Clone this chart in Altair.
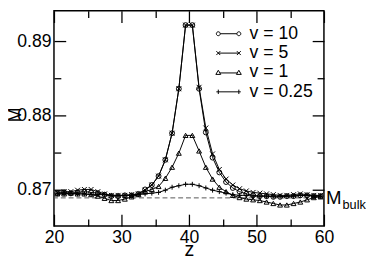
import altair as alt
import pandas as pd

# ---------------- data ----------------
Z = [20.5, 21.5, 22.5, 23.5, 24.5, 25.5, 26.5, 27.5, 28.5, 29.5,
     30.5, 31.5, 32.5, 33.5, 34.5, 35.5, 36.5, 37.5, 38.5, 39.5,
     40.5, 41.5, 42.5, 43.5, 44.5, 45.5, 46.5, 47.5, 48.5, 49.5,
     50.5, 51.5, 52.5, 53.5, 54.5, 55.5, 56.5, 57.5, 58.5, 59.5]

SERIES = ["v = 10", "v = 5", "v = 1", "v = 0.25"]

M_V10 = [0.8695, 0.8696, 0.8695, 0.8696, 0.8697, 0.8696, 0.8695, 0.8693, 0.8691, 0.8691,
         0.8692, 0.8692, 0.8694, 0.8700, 0.8706, 0.8718, 0.8740, 0.8776, 0.8836, 0.8922,
         0.8922, 0.8836, 0.8777, 0.8743, 0.8723, 0.8710, 0.8702, 0.8697, 0.8694, 0.8692,
         0.8691, 0.8691, 0.8690, 0.8690, 0.8691, 0.8691, 0.8692, 0.8692, 0.8691, 0.8691]

M_V5 = [0.8696, 0.8697, 0.8697, 0.8699, 0.8700, 0.8700, 0.8697, 0.8694, 0.8692, 0.8692,
        0.8692, 0.8693, 0.8694, 0.8699, 0.8706, 0.8718, 0.8740, 0.8776, 0.8836, 0.8922,
        0.8922, 0.8838, 0.8783, 0.8748, 0.8727, 0.8714, 0.8706, 0.8701, 0.8698, 0.8696,
        0.8695, 0.8694, 0.8693, 0.8692, 0.8692, 0.8693, 0.8694, 0.8693, 0.8692, 0.8692]

M_V1 = [0.8694, 0.8694, 0.8695, 0.8694, 0.8694, 0.8693, 0.8691, 0.8688, 0.8685, 0.8685,
        0.8687, 0.8690, 0.8693, 0.8697, 0.8700, 0.8704, 0.8715, 0.8730, 0.8749, 0.8773,
        0.8773, 0.8752, 0.8730, 0.8714, 0.8703, 0.8697, 0.8692, 0.8689, 0.8687, 0.8686,
        0.8685, 0.8683, 0.8681, 0.8679, 0.8679, 0.8681, 0.8683, 0.8686, 0.8689, 0.8690]

M_V025 = [0.8694, 0.8694, 0.8694, 0.8694, 0.8694, 0.8693, 0.8693, 0.8693, 0.8692, 0.8692,
          0.8692, 0.8692, 0.8693, 0.8694, 0.8695, 0.8696, 0.8699, 0.8703, 0.8705, 0.8707,
          0.8707, 0.8705, 0.8702, 0.8699, 0.8697, 0.8695, 0.8693, 0.8692, 0.8692, 0.8691,
          0.8691, 0.8691, 0.8691, 0.8691, 0.8691, 0.8691, 0.8692, 0.8692, 0.8691, 0.8691]

M_BULK = 0.86886
BULK_MAIN = "M"
BULK_SUB = "bulk"

X_DOMAIN = [20, 60]
Y_DOMAIN = [0.86507, 0.89414]
X_MAJOR = [20, 30, 40, 50, 60]
X_MINOR = [25, 35, 45, 55]
Y_MAJOR = [0.87, 0.88, 0.89]
Y_MINOR = [0.875, 0.885]

# ---------------- tables ----------------
rows = []
for name, vals in zip(SERIES, [M_V10, M_V5, M_V1, M_V025]):
    for z, m in zip(Z, vals):
        rows.append({"z": z, "M": m, "series": name})
df = pd.DataFrame(rows)
df_bulk = pd.DataFrame({"z": [X_DOMAIN[1]], "M": [M_BULK],
                        "main": [BULK_MAIN], "sub": [BULK_SUB]})

FONT = "Liberation Sans"
xs = alt.Scale(domain=X_DOMAIN, nice=False, zero=False)
ys = alt.Scale(domain=Y_DOMAIN, nice=False, zero=False)


def tick_axis(orient, values, size):
    return alt.Axis(orient=orient, values=values, offset=-size, tickSize=size,
                    domain=False, grid=False, labels=False, title=None)


ax_bottom = alt.Axis(orient="bottom", values=X_MAJOR, offset=-12, tickSize=12, domain=False,
                     grid=False, labelFlush=False, labelPadding=3, labelFontSize=18,
                     labelFont=FONT, title="z", titleFontSize=20, titleFont=FONT,
                     titleFontWeight="normal", titleBaseline="alphabetic",
                     titleAlign="center", titleX=138, titleY=42.5)
ax_left = alt.Axis(orient="left", values=Y_MAJOR, offset=-12, tickSize=12, domain=False,
                   grid=False, format=".2f", labelPadding=3, labelFontSize=18,
                   labelFont=FONT, title="M", titleFontSize=18, titleFont=FONT,
                   titleFontWeight="normal", titleAngle=270, titleBaseline="alphabetic",
                   titleAlign="center", titleX=-46, titleY=106)
ax_bottom_minor = tick_axis("bottom", X_MINOR, 7)
ax_top = tick_axis("top", X_MAJOR, 12)
ax_top_minor = tick_axis("top", X_MINOR, 7)
ax_left_minor = tick_axis("left", Y_MINOR, 7)
ax_right = tick_axis("right", Y_MAJOR, 12)
ax_right_minor = tick_axis("right", Y_MINOR, 7)

X_PATH = "M-1,-1L1,1M-1,1L1,-1"
PLUS_PATH = "M-1,0L1,0M0,-1L0,1"
LEG_CIRC = ("M-2.5,0A0.4,0.4,0,1,1,-1.7,0A0.4,0.4,0,1,1,-2.5,0Z"
            "M-1.7,0L1.7,0"
            "M1.7,0A0.4,0.4,0,1,1,2.5,0A0.4,0.4,0,1,1,1.7,0Z")
LEG_X = ("M-2.5,-0.4L-1.7,0.4M-2.5,0.4L-1.7,-0.4M-2.1,0L2.1,0"
         "M1.7,-0.4L2.5,0.4M1.7,0.4L2.5,-0.4")
LEG_TRI = "M-2.6,0.4L-2.1,-0.45L-1.6,0.4ZM-1.8,0.1L1.8,0.1M1.6,0.4L2.1,-0.45L2.6,0.4Z"
LEG_PLUS = "M-2.5,0L2.5,0M-2.1,-0.45L-2.1,0.45M2.1,-0.45L2.1,0.45"

rule = alt.Chart(pd.DataFrame({"M": [M_BULK]})).mark_rule(
    color="#555555", strokeDash=[5, 3], strokeWidth=1
).encode(y=alt.Y("M:Q", scale=ys, axis=None))

lines = alt.Chart(df).mark_line(color="black", strokeWidth=1).encode(
    x=alt.X("z:Q", scale=xs, axis=ax_bottom),
    y=alt.Y("M:Q", scale=ys, axis=ax_left),
    detail="series:N",
)

points = alt.Chart(df).mark_point(filled=False, color="black", strokeWidth=1, opacity=1).encode(
    x=alt.X("z:Q", scale=xs, axis=ax_bottom_minor),
    y=alt.Y("M:Q", scale=ys, axis=ax_left_minor),
    shape=alt.Shape("series:N", scale=alt.Scale(domain=SERIES,
                    range=["circle", X_PATH, "triangle-up", PLUS_PATH]), legend=None),
    size=alt.Size("series:N", scale=alt.Scale(domain=SERIES, range=[25, 25, 36, 25]),
                  legend=None),
)

legend_layer = alt.Chart(df).mark_point(filled=False, color="black", opacity=0).encode(
    x=alt.X("z:Q", scale=xs, axis=ax_top),
    y=alt.Y("M:Q", scale=ys, axis=ax_right),
    shape=alt.Shape("series:N", scale=alt.Scale(domain=SERIES,
                    range=[LEG_CIRC, LEG_X, LEG_TRI, LEG_PLUS]),
                    legend=alt.Legend(orient="none", legendX=169.5, legendY=14.5,
                                      title=None, padding=0, labelFont=FONT,
                                      labelFontSize=18, labelColor="black",
                                      symbolSize=100, symbolStrokeWidth=1,
                                      symbolStrokeColor="black",
                                      symbolFillColor="transparent", symbolOpacity=1,
                                      labelOffset=12.5, rowPadding=1.8)),
)

txt_main = alt.Chart(df_bulk).mark_text(
    align="left", baseline="alphabetic", dx=2, dy=6.5, fontSize=19, font=FONT, color="black"
).encode(
    x=alt.X("z:Q", scale=xs, axis=ax_top_minor),
    y=alt.Y("M:Q", scale=ys, axis=ax_right_minor),
    text="main:N",
)

txt_sub = alt.Chart(df_bulk).mark_text(
    align="left", baseline="alphabetic", dx=19, dy=11.7, fontSize=13, font=FONT, color="black"
).encode(
    x=alt.X("z:Q", scale=xs, axis=None),
    y=alt.Y("M:Q", scale=ys, axis=None),
    text="sub:N",
)

chart = alt.layer(rule, lines, points, legend_layer, txt_main, txt_sub).resolve_scale(
    shape="independent", size="independent"
).resolve_axis(
    x="independent", y="independent"
).properties(
    width=276, height=220,
    autosize=alt.AutoSizeParams(type="none"),
    padding={"left": 47, "top": 0, "right": 43, "bottom": 31},
).configure_axis(
    tickColor="black", tickWidth=1.3, labelColor="black", titleColor="black"
).configure_view(
    stroke="black", strokeWidth=1.5
)

chart.save("out.html", embed_options={"renderer": "svg", "actions": False})
